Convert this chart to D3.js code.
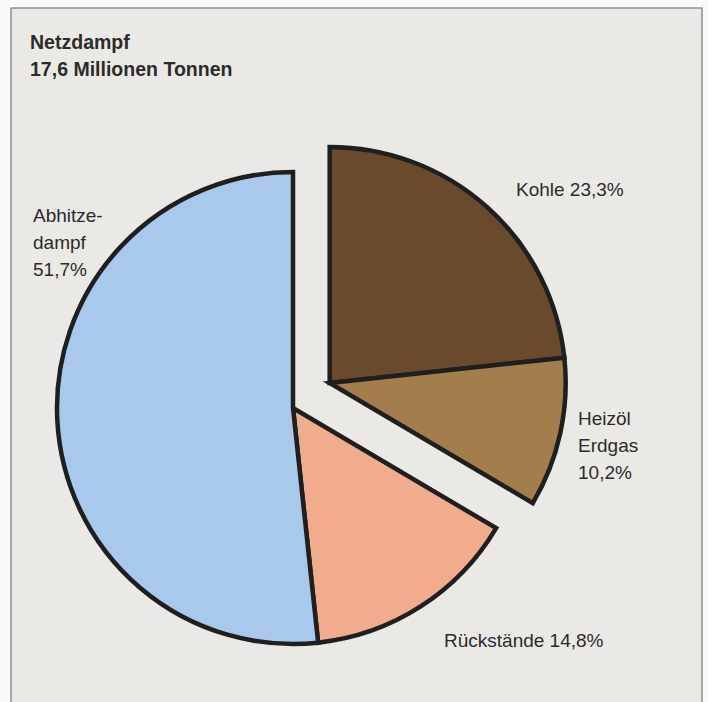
<!DOCTYPE html>
<html>
<head>
<meta charset="utf-8">
<script src="https://cdn.jsdelivr.net/npm/d3@7"></script>
<style>
  html, body { margin: 0; padding: 0; background: #fafafa; }
  svg { display: block; }
  text { font-family: "Liberation Sans Narrow", "Arial Narrow", "Liberation Sans", sans-serif; fill: #2b2b2b; }
</style>
</head>
<body>
<svg id="chart" width="708" height="702"></svg>
<script>
// Shares of network steam production (percent)
const categories = ["Kohle", "Heizöl Erdgas", "Rückstände", "Abhitzedampf"];
const shares = [23.3, 10.2, 14.8, 51.7];
const exploded = [true, true, false, false];
const colors = ["#6a4a2c", "#a47d4c", "#f0ac8c", "#a8c9ec"];
const labelLines = [
  ["Kohle 23,3%"],
  ["Heizöl", "Erdgas", "10,2%"],
  ["Rückstände 14,8%"],
  ["Abhitze-", "dampf", "51,7%"]
];
const titleLines = ["Netzdampf", "17,6 Millionen Tonnen"];

const svg = d3.select("#chart");
const W = 708, H = 702;

// paper panel with thin frame
svg.append("rect").attr("x", 11).attr("y", 8).attr("width", 691).attr("height", H)
  .attr("fill", "#ebe9e6").attr("stroke", "#7a7a7a").attr("stroke-width", 1.2);

// title, slightly condensed
svg.append("g").attr("transform", "translate(30,0) scale(0.93,1)")
  .selectAll("text.title").data(titleLines).join("text")
  .attr("class", "title")
  .attr("x", 0).attr("y", (d, i) => 49 + i * 27)
  .attr("font-size", 21).attr("font-weight", "bold")
  .text(d => d);

const cx = 293, cy = 408, R = 236;
const pie = d3.pie().sort(null).value(d => d)(shares);
const arc = d3.arc().innerRadius(0).outerRadius(R);

// offset for the pulled-out group (Kohle + Heizöl/Erdgas)
const exStart = pie[0].startAngle, exEnd = pie[1].endAngle;
const exMid = (exStart + exEnd) / 2;
const exDist = 44;
const exDx = Math.sin(exMid) * exDist * 0.96, exDy = -Math.cos(exMid) * exDist * 1.15;

const g = svg.append("g").attr("transform", `translate(${cx},${cy})`);
g.selectAll("path").data(pie).join("path")
  .attr("transform", (d, i) => exploded[i] ? `translate(${exDx},${exDy})` : null)
  .attr("d", arc)
  .attr("fill", (d, i) => colors[i])
  .attr("stroke", "#1f1f1f")
  .attr("stroke-width", 4.5)
  .attr("stroke-linejoin", "miter");

// labels
const labelPos = [
  { x: 516, y: 196, anchor: "start" },
  { x: 578, y: 425, anchor: "start" },
  { x: 444, y: 647, anchor: "start" },
  { x: 33, y: 222, anchor: "start" }
];
labelLines.forEach((lines, i) => {
  const p = labelPos[i];
  svg.append("text")
    .attr("x", p.x).attr("y", p.y)
    .attr("text-anchor", p.anchor)
    .attr("font-size", 19)
    .selectAll("tspan").data(lines).join("tspan")
    .attr("x", p.x).attr("dy", (d, j) => j === 0 ? 0 : 27)
    .text(d => d);
});
</script>
</body>
</html>
